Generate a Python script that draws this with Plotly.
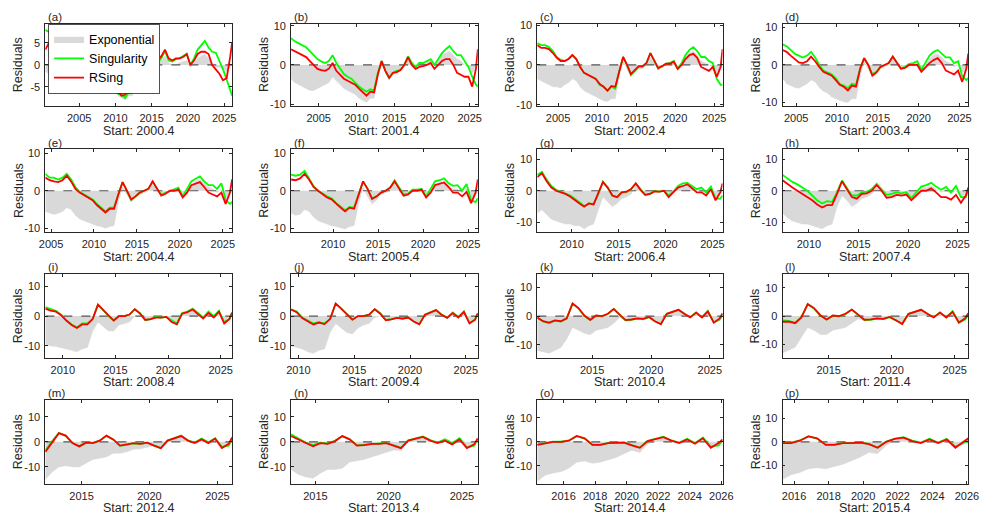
import numpy as np
import plotly.graph_objects as go

# ---------------- data ----------------
START_LABELS = ["2000.4", "2001.4", "2002.4", "2003.4", "2004.4", "2005.4", "2006.4", "2007.4",
                "2008.4", "2009.4", "2010.4", "2011.4", "2012.4", "2013.4", "2014.4", "2015.4"]
PANEL_TAGS = ["(a)", "(b)", "(c)", "(d)", "(e)", "(f)", "(g)", "(h)",
              "(i)", "(j)", "(k)", "(l)", "(m)", "(n)", "(o)", "(p)"]

A_EXP = [-1.5, -2, -2.2, -2.3, -2.5, -2.3, -2.5, -3, -3.5, -4.5, -4.5, -4, -3.5, -2.5, -2.3, -3, -4, -4.5,
         -5, -6, -7, -7.5, -8, -7, -7, -1.5, 1, 0, -3, -1.5, -0.5, 0.5, 1, 2, 0.5, 0, 0, 0.5, 0.8, 1,
         -0.5, 0.5, 1.5, 2, 2.5, 1.5, 0, -0.5, -0.5, -1, -1.5, -0.5, 0]
A_SING = [8, 7.5, 7, 6.5, 6, 5.5, 5, 4, 3, 2, 1.5, 1.2, 1.5, 3, 1, -1.5, -3, -3.5, -4.3, -5.5, -6.5, -6.8,
          -7.5, -6.3, -6.2, -1, 3, 1, -3, -1.5, 0, 0.5, 1.5, 3.2, 1, 0.8, 1.3, 1.5, 2, 2.5, 0, 1.5, 3.5,
          4.5, 5.5, 4, 3, 2.8, 1, -1, -3.3, -5.5, -7]
A_RSING = [3.5, 5, 4.5, 4.2, 4, 3.5, 3, 2.5, 1.5, 0.5, 0, -0.3, 0, 1.5, 0, -1.8, -3.3, -3.8, -4.5, -5.2, -6,
           -7, -6.8, -5.5, -6, -1, 3, 1, -2.5, -1, 0, 1, 2, 3.5, 1.5, 1, 1.5, 1.5, 1.8, 2.5, 0, 1, 2.5, 3,
           3, 2.5, 0, -1, -2, -3.5, -3, 2, 5]

B_EXP = [-3.5, -4.5, -5, -5.5, -6, -6.5, -6.5, -6, -5.5, -5, -4.5, -3, -4, -5, -6, -6.5, -7, -7.5, -8.5,
         -9, -9.5, -8.5, -8.5, -3, 0.5, -2, -3.8, -2.5, -2, -1.5, 0, 1.5, 0, -0.5, 0, 0.5, 1, 1.5, 0, 1,
         2.5, 3, 3.5, 2.5, 1.5, 1, 0, -0.5, -2, -1, 0]
B_SING = [6.8, 6, 5.5, 5, 4.5, 3.5, 2.5, 1.5, 0.9, 0.5, 1, 2.5, 0.5, -1, -2.3, -3, -3.5, -4.5, -5.5, -6.2,
          -6.8, -6.2, -6.5, -2, 1, -1.5, -3.3, -2, -1.5, -1.3, 0, 2.2, 0.5, -0.5, 0.5, 0.5, 1, 1.5, 0,
          1.5, 3, 4, 4.8, 3.5, 2.5, 2.5, 1, -0.5, -3, -5, -5.5]
B_RSING = [4, 3.5, 3, 2.5, 2, 1, 0, -1, -1.3, -1.5, -1, 0.5, -1.5, -2.5, -3.5, -4, -4.5, -5, -6, -7, -7.8,
           -6.8, -7, -2.5, 1, -1.5, -3.3, -2, -1.8, -1.3, 0, 2, 0, -1, -0.5, -0.3, 0, 0.5, -1, 0, 1, 1.5,
           1.5, 0, -2, -2.5, -3, -3, -5.5, -1, 4]

C_EXP = [-3.5, -4, -4.5, -5, -5.5, -5.5, -5.8, -5, -4.5, -3.5, -4, -5.5, -6.5, -7, -7.5, -8, -8.5, -9,
         -9.2, -8.5, -8.5, -3, 1, -1, -3, -2, -1, -1, 0, 2, 0.5, -1, -0.5, 0, 0.5, 1, -0.5, 0.5, 2, 3,
         3.5, 2.5, 1, 0.5, 0, -0.5, -2, -1, 0]
C_SING = [5.5, 5, 5, 4.5, 3.5, 2, 1.3, 1, 1.5, 2.5, 1.5, -0.5, -2, -2.5, -3, -3.5, -5, -5.5, -6.5, -5.5,
          -6, -1.5, 2, 0, -2.5, -1.5, -0.5, -0.5, 0.5, 3, 1, -1, -0.3, 0.3, 0.5, 1, -1, 0.5, 2.5, 3.8,
          4.5, 3.5, 2, 2, 1, 0.5, -3.5, -5, -5]
C_RSING = [5, 4.3, 4.3, 4, 3, 1.8, 1, 1, 1.5, 2.5, 1.5, -0.5, -2, -2.5, -3, -3.5, -4.8, -5.5, -6.5, -5.3,
           -5.5, -1.5, 2, 0, -2.3, -1.3, -0.3, -0.3, 0.5, 3, 1, -0.8, -0.3, 0.3, 0.3, 0.8, -1, 0, 1.5,
           2.5, 2.8, 1.8, -0.5, -1, -1.5, -0.5, -3, -0.5, 4]

D_EXP = [-3.5, -5, -5.5, -6, -6.2, -5.5, -5, -4, -4.5, -6, -7, -7.5, -8.5, -9, -9.5, -9.8, -10, -9, -9,
         -3, 1, -1, -3.3, -2.5, -1, -0.5, 0, 1.5, 0, -1, -0.5, 0, 0.3, 0.5, -1, 0, 1.5, 2.5, 3, 2, 1,
         0.5, -0.5, 0, -2, -1.5, 0]
D_SING = [5.5, 5, 4, 3, 2.5, 2, 2.5, 3.5, 2, 0, -1.5, -2, -2.5, -3.5, -5, -5.5, -6.2, -5, -5.3, -1, 1.8,
          0, -2.5, -1.8, -0.5, 0, 0.5, 2.3, 0.5, -1, -0.5, 0.3, 0.5, 1, -1.3, 0.5, 2.5, 3.5, 4, 3, 2, 2,
          0.5, 1, -3, -4, -3.5]
D_RSING = [4, 3.5, 2.5, 1.5, 0.7, 0.5, 1, 2.2, 1, -0.5, -1.8, -2.3, -2.8, -4, -5.3, -5.8, -6.8, -5.5,
           -5.8, -1, 1.8, 0, -2.8, -2, -0.5, 0, 0.5, 2.2, 0.5, -1, -0.8, 0, 0, 0, -1.8, -0.5, 0.5, 1.3,
           1.8, 0.5, -1.5, -2, -2.5, -1.5, -4.5, -1, 3]

E_EXP = [-5.5, -6, -6.3, -6, -5.5, -4.5, -5, -6.5, -7.5, -8, -8.5, -9, -9.3, -9.5, -10, -9.5, -9.3, -3, 1,
         -1, -3, -2, -1, -0.5, 0, 2, 0, -1, -0.5, 0, 0, 0.5, -1, 0, 1.5, 2.5, 3, 2, 1, 0.5, -0.5, 0.5,
         -2, -1, 0]
E_SING = [4.5, 3.5, 3.5, 3, 3.5, 4.5, 3, 1, -0.3, -1, -1.8, -2.3, -3.5, -4.5, -5.5, -4.5, -4.5, -1, 2.3,
          0, -2.5, -1.5, -0.5, 0, 0.5, 2.5, 0.5, -1, -0.5, 0, 0.3, 0.8, -1.5, 0.5, 2.5, 3.2, 3.8, 2.5,
          1.5, 1.5, 0.5, 2, -2.5, -3.5, -3]
E_RSING = [3.5, 2.8, 2.5, 2.3, 2.8, 4, 2.5, 0.5, -0.5, -1.2, -2, -2.5, -3.8, -4.8, -5.8, -4.8, -4.8, -1,
           2.3, 0, -2.3, -1.5, -0.5, 0, 0.5, 2.5, 0.5, -1.3, -0.8, 0, 0, 0.3, -1.8, -0.5, 1.5, 2, 2.3, 1,
           -0.5, -1, -1.5, -0.5, -3.5, -0.5, 3]

F_EXP = [-6, -6.5, -6.3, -5, -5.5, -7, -8, -8.5, -9, -9.3, -9.5, -9.8, -10.2, -9.5, -9.3, -3.5, 1, -1.5,
         -3.5, -2.5, -1, -0.5, 0, 2, 0, -1.3, -1, 0, 0, 0.3, -1.3, 0, 1.5, 2, 2.5, 1.5, 0.5, 0.5, -0.5,
         0.5, -2, -1, 0]
F_SING = [4.3, 4, 4.3, 5.3, 3.3, 1.2, 0, -0.8, -1.5, -2, -3.3, -4.2, -5.2, -4.3, -4.5, -1, 2.5, 0.5, -2,
          -1.5, -0.5, 0, 0.8, 2.8, 0.8, -1, -0.8, 0.3, 0.3, 0.5, -1.5, 0.5, 2.5, 2.8, 3.3, 2, 1.3, 1.5, 0,
          1.8, -2.5, -3, -2]
F_RSING = [3, 2.8, 3.3, 4.5, 3, 1, 0, -1, -1.8, -2.3, -3.5, -4.5, -5.5, -4.5, -4.8, -1, 2.5, 0.5, -2.2,
           -1.5, -0.5, 0, 0.8, 2.5, 0.5, -1.3, -1, 0, 0, 0.3, -1.8, -0.5, 1.5, 1.8, 2.2, 1, -0.5, -0.5,
           -1.5, -0.3, -3.3, -0.5, 3]

G_EXP = [-7, -6, -7.5, -9, -9.5, -10, -10.5, -10.5, -11, -11, -12, -11, -10.5, -6, -2, -3.5, -5, -4, -2.5,
         -2, -1, 1.5, 0, -1.5, -1.3, -0.3, -0.5, 0, -1.5, -0.5, 1, 1.5, 2, 1, 0, 0, -1, 0.5, -2, -1, 0]
G_SING = [5, 6, 3.5, 1.5, 0.3, -0.3, -1, -1.5, -2.5, -3.8, -4.8, -4, -4.3, -1, 2.8, 1, -1.5, -2, -0.5,
          -0.5, 0.5, 2.3, 0.5, -1.3, -1, 0, -0.3, 0, -1.5, -0.3, 1.5, 2.3, 2.5, 1.5, 0.5, 1, -0.5, 1.3,
          -2.5, -2.5, -1.5]
G_RSING = [4.3, 5.5, 3, 1, 0, -0.5, -1, -1.8, -3, -4, -5, -4, -4.3, -1, 2.8, 1, -1.5, -2, -0.5, -0.3, 0.5,
           2.3, 0.3, -1.3, -1, -0.2, -0.3, 0, -2, -0.5, 1, 1.5, 2, 0.8, -0.5, -0.5, -1.5, 0.5, -3, -0.5,
           2.3]

H_EXP = [-7, -8.5, -9.5, -10, -10.5, -10.5, -11, -11.5, -12, -11, -10.5, -5, -1.5, -3, -5, -4, -2.5, -2,
         -1, 1, -0.5, -2, -2, -1, -1, -0.5, -2, -1, 0.5, 1, 1.5, 0.5, -0.5, 0, -1, 0, -2, -1, 0]
H_SING = [5, 3.8, 2.8, 2, 1, 0, -1.5, -3, -4, -3.3, -3.5, -0.5, 3.2, 1, -1.5, -1.5, -0.5, -0.3, 0.5, 2.2,
          0.5, -1.3, -1, -0.5, -0.8, -0.5, -2.3, -0.5, 1.3, 1.8, 2.5, 1.3, 0.3, 1.2, -0.5, 1.5, -2, -2, 0.5]
H_RSING = [3.3, 2, 1, 0, -1, -1.8, -3, -4.3, -5.3, -4.5, -4.5, -1, 3, 0.5, -2, -2.5, -1, -0.8, 0, 1.8, 0,
           -2.2, -2, -1.3, -1.5, -1.2, -3, -1.5, 0, 0, 0.8, -0.5, -2, -2, -2.8, -1.3, -3.8, -1.5, 1]

I_EXP = [-9.5, -10, -10.2, -10.5, -11, -11.5, -12, -11, -10.5, -5, -2, -3.5, -5, -5, -3, -2.5, -2, 0, 0,
         -1.5, -1.3, -0.5, -0.5, -0.3, -1.5, -2.5, 0.5, 1, 2, 0.5, -0.5, 1, -0.3, 1.3, -2, -1, 0.5]
I_SING = [3, 2.3, 1.8, 0.5, -1.5, -2.8, -3.8, -2.5, -2.5, -1, 3.8, 2, 0, -1.5, 0, 0, 0.5, 2.3, 1, -1.3,
          -1, -0.3, -0.5, -0.3, -1.5, -2.5, 1, 1.5, 2.5, 1, -0.5, 1.5, 0, 1.8, -2, -1, 1]
I_RSING = [2.5, 1.8, 1.5, 0.3, -1.5, -3, -4, -2.8, -2.8, -1, 3.8, 2, 0, -1.5, 0, 0, 0.5, 2.3, 0.8, -1.3,
           -1, -0.5, -0.5, -0.3, -2, -2.8, 0.8, 1.3, 2.2, 0.8, -0.8, 1, -0.5, 1.5, -2.5, -1, 1.2]

J_EXP = [-10, -10.5, -11, -12, -12.5, -11.5, -11, -5.5, -2.5, -4, -5.5, -6, -4, -3, -2.5, -0.5, 0, -1.5,
         -1.3, -0.5, -0.8, -0.5, -1.5, -2.5, 0.3, 1, 1.8, 0.3, -0.5, 1, -0.3, 1.3, -2, -1, 0.5]
J_SING = [2.3, 1.5, -0.5, -1.5, -2.5, -2, -2.5, -1, 4.2, 2.5, 0.5, -1.2, 0, 0, 0.5, 2.3, 1, -1.3, -1,
          -0.5, -0.8, -0.5, -1.8, -2.8, 0.5, 1.3, 2, 0.5, -0.5, 1.2, -0.3, 1.5, -2.3, -1.2, 0.8]
J_RSING = [2.2, 1.3, -0.7, -1.7, -2.8, -2.2, -2.7, -1, 4.2, 2.5, 0.5, -1.2, 0, 0, 0.5, 2.3, 0.8, -1.4,
           -1.1, -0.6, -0.9, -0.5, -1.8, -2.8, 0.4, 1.2, 2, 0.4, -0.6, 1, -0.5, 1.4, -2.5, -1.2, 1]

K_EXP = [-12, -12.5, -13, -12, -11, -8, -4, -5, -6, -6.5, -5, -4.5, -4, -2.5, -0.5, -1.5, -1.3, -0.8, -1,
         -0.3, -1.5, -2.5, 0.5, 1.2, 2, 0.5, -0.5, 1, -0.5, 1.3, -2, -1, 0.5]
K_SING = [-0.6, -1.9, -2.5, -1.6, -1.9, -0.9, 4.3, 2.7, 0.1, -1.4, 0.1, -0.1, 0.7, 2.4, 0.4, -1.5, -1.3,
          -0.9, -1.1, -0.4, -1.8, -2.9, 0.7, 1.4, 2.2, 0.8, -0.4, 1.3, -0.4, 1.8, -2.2, -1.3, 0.5]
K_RSING = [-0.5, -1.8, -2.3, -1.5, -1.8, -0.8, 4.4, 2.8, 0.2, -1.3, 0.2, 0, 0.8, 2.5, 0.5, -1.4, -1.2,
           -0.8, -1, -0.3, -1.8, -2.8, 0.8, 1.5, 2.2, 0.8, -0.5, 1.2, -0.5, 1.6, -2.3, -0.8, 1]

L_EXP = [-13, -12, -11, -7.5, -4, -5, -6.5, -6.5, -5, -4.5, -4, -2.5, -1, -1.5, -1.3, -0.8, -1, -0.3,
         -1.5, -2.5, 0.5, 1.2, 2, 0.5, -0.5, 1, -0.5, 1.2, -2, -1, 0.5]
L_SING = [-1.5, -1.7, -2.3, -0.4, 4.2, 2.7, 0.2, -1.3, 0.1, -0.1, 0.7, 2.3, 0.4, -1.4, -1.3, -0.9, -1.1,
          -0.4, -1.5, -2.8, 0.7, 1.4, 2.2, 0.8, -0.4, 1.3, -0.4, 1.7, -2.2, -1.2, 0.6]
L_RSING = [-2, -2, -2.5, -0.5, 4.2, 2.8, 0.3, -1.2, 0.2, 0, 0.8, 2.3, 0.5, -1.3, -1.2, -0.8, -1, -0.3,
           -1.5, -2.8, 0.8, 1.5, 2.2, 0.8, -0.5, 1.2, -0.5, 1.5, -2.3, -0.8, 1]

M_EXP = [-15, -12, -10, -9.5, -10, -10, -8.5, -7, -6.5, -6, -4.5, -4.5, -4, -3, -2.8, -2, -1.5, -2.5, 0.5,
         1.2, 2, 0.3, -0.5, 0.8, -0.5, 1, -2, -1, 0.5]
M_SING = [-3.5, 0.3, 3.5, 2.4, -0.5, -1.8, -0.2, -0.4, 0.5, 2.4, 0.9, -1.6, -1.2, -0.6, -0.8, -0.3, -1.4,
          -2.5, 0.5, 1.5, 2.5, 0.6, -0.3, 1.3, -0.2, 1.5, -2, -1.5, 1]
M_RSING = [-4, 0, 3.5, 2.5, -0.5, -1.8, -0.3, -0.5, 0.5, 2.5, 1, -1.5, -1, -0.5, -0.8, -0.3, -1.5, -2.5,
           0.5, 1.5, 2.3, 0.5, -0.5, 1, -0.5, 1.3, -2.5, -0.8, 1.8]

N_EXP = [-11, -13, -14, -14.5, -12.5, -11, -11, -10.5, -8, -7.5, -7, -6, -5, -4, -3.3, -3.5, 0, 1, 1.8,
         0.3, -0.5, 0.5, -1, 0.8, -2, -1, 0.5]
N_SING = [3, 1.3, -0.3, -1.3, -0.3, -0.6, 0.4, 2.3, 1, -1.4, -1.2, -0.7, -0.7, -0.4, -1.4, -2.4, 0.6, 1.4,
          2.2, 0.7, -0.3, 1, -0.5, 1.5, -2.2, -1.5, 1]
N_RSING = [2.3, 1, -0.5, -1.8, -0.5, -0.8, 0.3, 2.3, 1, -1.5, -1.3, -0.8, -0.8, -0.5, -1.5, -2.5, 0.5,
           1.3, 2, 0.5, -0.5, 0.5, -1, 1, -2.5, -1, 1.5]

O_EXP = [-16.5, -14, -13, -12.5, -11, -8.5, -8, -9, -8.5, -7.5, -6.5, -5, -3.5, -4.5, -1, 0.5, 1.5, 0.3,
         -0.5, 0.8, -0.8, 1, -2, -1, 0.5]
O_SING = [-1.2, -0.4, 0.1, 0.1, 0.5, 2.4, 1.4, -1.2, -1.2, -0.4, -0.4, -0.2, -1.4, -2.4, 0.4, 1.3, 2.2,
          0.6, -0.3, 1.3, -0.5, 1.7, -2, -1.5, 0.5]
O_RSING = [-1.3, -0.5, 0, 0, 0.5, 2.5, 1.5, -1.3, -1.3, -0.5, -0.5, -0.3, -1.5, -2.5, 0.3, 1.2, 2, 0.5,
           -0.5, 1, -0.8, 1.5, -2.5, -0.5, 1]

P_EXP = [-16, -14, -13, -11.5, -11, -11.5, -10.5, -9.5, -8, -6.5, -4.5, -5, -1.5, 0.5, 1.5, 0.3, -0.5, 0.8,
         -0.8, 0.8, -2, -1, 0.5]
P_SING = [-0.3, -0.3, 0.6, 2.4, 1.4, -1.2, -1.2, -0.4, -0.4, -0.2, -0.9, -2.4, 0.1, 1.4, 2, 0.5, -0.3,
          1.3, -0.3, 1.3, -2, -0.5, 0.5]
P_RSING = [-0.5, -0.5, 0.5, 2.3, 1.5, -1.3, -1.3, -0.5, -0.5, -0.3, -1, -2.5, 0, 1.3, 1.8, 0.3, -0.5, 1,
           -0.5, 1, -2.5, 0, 1.5]

EXP_SERIES = [A_EXP, B_EXP, C_EXP, D_EXP, E_EXP, F_EXP, G_EXP, H_EXP,
              I_EXP, J_EXP, K_EXP, L_EXP, M_EXP, N_EXP, O_EXP, P_EXP]
SING_SERIES = [A_SING, B_SING, C_SING, D_SING, E_SING, F_SING, G_SING, H_SING,
               I_SING, J_SING, K_SING, L_SING, M_SING, N_SING, O_SING, P_SING]
RSING_SERIES = [A_RSING, B_RSING, C_RSING, D_RSING, E_RSING, F_RSING, G_RSING, H_RSING,
                I_RSING, J_RSING, K_RSING, L_RSING, M_RSING, N_RSING, O_RSING, P_RSING]

# ---------------- layout constants ----------------
W, H = 996, 524
END_T = 2026.08
STEP = 0.5
Y_HALF = [9.4, 10.5, 10.4, 11, 11, 11, 13, 13, 14, 14, 14.6, 14.7, 16.7, 16.7, 17.5, 17.8]
COLS = [(40, 230), (290, 480), (540.5, 729), (790, 979)]
ROWS = [(19, 103), (147, 231), (274, 359), (402, 487)]
FONT = "Liberation Sans, Arial, sans-serif"
TXT = "#262626"
GRAY = "rgb(217,217,217)"
GREEN = "rgb(0,255,0)"
RED = "rgb(255,0,0)"


def start_year(label):
    y, m = label.split(".")
    return int(y) + int(m) / 12.0


def times(t0, n):
    t = t0 + STEP * np.arange(n)
    t[-1] = min(t[-1], END_T)
    return t


def px(x):
    return x / W


def py(y):
    return 1 - y / H


fig = go.Figure()
annotations = []
layout_axes = {}

for i in range(16):
    r, c = divmod(i, 4)
    j = i + 1
    xa = "x" if j == 1 else f"x{j}"
    ya = "y" if j == 1 else f"y{j}"
    t0 = start_year(START_LABELS[i])
    exp_v = EXP_SERIES[i]
    sing_v = SING_SERIES[i]
    rs_v = RSING_SERIES[i]
    first = (i == 0)

    fig.add_trace(go.Scatter(x=times(t0, len(exp_v)), y=exp_v, mode="lines", fill="tozeroy",
                             fillcolor=GRAY, line=dict(color=GRAY, width=0.5),
                             name="Exponential", showlegend=first, legendgroup="e",
                             xaxis=xa, yaxis=ya, hoverinfo="skip"))
    fig.add_trace(go.Scatter(x=[t0, END_T], y=[0, 0], mode="lines",
                             line=dict(color="rgb(85,85,85)", width=1.2, dash="dash"),
                             showlegend=False, xaxis=xa, yaxis=ya, hoverinfo="skip"))
    fig.add_trace(go.Scatter(x=times(t0, len(sing_v)), y=sing_v, mode="lines",
                             line=dict(color=GREEN, width=1.8),
                             name="Singularity", showlegend=first, legendgroup="s",
                             xaxis=xa, yaxis=ya, hoverinfo="skip"))
    fig.add_trace(go.Scatter(x=times(t0, len(rs_v)), y=rs_v, mode="lines",
                             line=dict(color=RED, width=1.8),
                             name="RSing", showlegend=first, legendgroup="r",
                             xaxis=xa, yaxis=ya, hoverinfo="skip"))

    if i >= 14:
        xt = list(range(2016, 2027, 2))
    else:
        xt = [v for v in range(2005, 2026, 5) if v >= t0]
    yt = [-5, 0, 5] if i == 0 else [-10, 0, 10]

    (x0, x1), (y0, y1) = COLS[c], ROWS[r]
    common = dict(showline=True, linecolor=TXT, linewidth=0.8, mirror="ticks", ticks="inside",
                  ticklen=3, tickwidth=0.8, tickcolor=TXT, showgrid=False, zeroline=False,
                  tickfont=dict(family=FONT, size=11, color=TXT))
    layout_axes["xaxis" if j == 1 else f"xaxis{j}"] = dict(
        domain=[px(x0), px(x1)], range=[t0, END_T], anchor=ya,
        tickvals=xt, ticktext=[str(v) for v in xt], ticklabelstandoff=2, **common)
    layout_axes["yaxis" if j == 1 else f"yaxis{j}"] = dict(
        domain=[py(y1), py(y0)], range=[-Y_HALF[i], Y_HALF[i]], anchor=xa,
        tickvals=yt, ticktext=[str(v) for v in yt], ticklabelstandoff=2, **common)

    annotations.append(dict(text=PANEL_TAGS[i], x=px(x0 + 1), y=py(y0 - 7), xref="paper", yref="paper",
                            xanchor="left", yanchor="middle", showarrow=False,
                            font=dict(family=FONT, size=11.5, color=TXT)))
    annotations.append(dict(text="Residuals", x=px(x0 - 27.5), y=py((y0 + y1) / 2), xref="paper",
                            yref="paper", textangle=-90, xanchor="center", yanchor="middle",
                            showarrow=False, font=dict(family=FONT, size=12.5, color=TXT)))
    annotations.append(dict(text=f"Start: {START_LABELS[i]}", x=px((x0 + x1) / 2), y=py(y1 + 25),
                            xref="paper", yref="paper", xanchor="center", yanchor="middle",
                            showarrow=False, font=dict(family=FONT, size=12.5, color=TXT)))

fig.update_layout(
    width=W, height=H, margin=dict(l=0, r=0, t=0, b=0),
    paper_bgcolor="white", plot_bgcolor="white",
    annotations=annotations,
    legend=dict(x=px(43), y=py(19), xanchor="left", yanchor="top", bgcolor="white",
                bordercolor=TXT, borderwidth=0.8, font=dict(family=FONT, size=12.5, color="black"),
                itemwidth=30, tracegroupgap=0),
    hovermode=False,
    **layout_axes,
)

fig.write_html("out.html")
